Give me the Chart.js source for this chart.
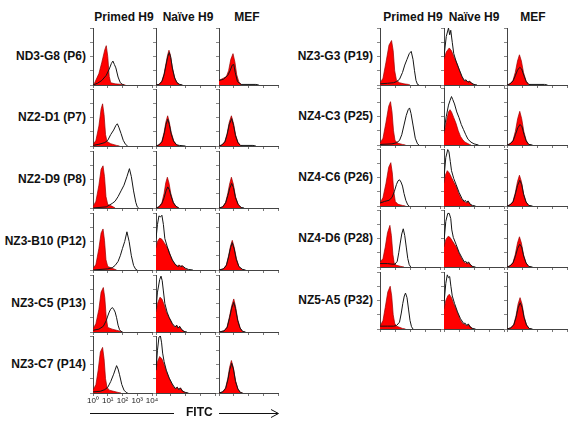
<!DOCTYPE html>
<html>
<head>
<meta charset="utf-8">
<script src="https://cdn.jsdelivr.net/npm/chart.js@4.4.1/dist/chart.umd.min.js"></script>
<style>
  html, body { margin: 0; padding: 0; background: #fff; }
  #stage { position: relative; width: 576px; height: 425px; overflow: hidden; font-family: "Liberation Sans", Arial, sans-serif; }
  canvas { position: absolute; }
  .hdr, .lbl, .fitc { position: absolute; font-weight: bold; font-size: 12px; color: #111; white-space: nowrap; line-height: 14px; }
  .hdr { transform: translateX(-50%); }
  .lbl { text-align: right; }
</style>
</head>
<body>
<div id="stage"></div>
<script>
// ---------- DATA (log10 fluorescence in decades, % of panel height) ----------
const columns = ['Primed H9', 'Naïve H9', 'MEF'];
const tickLabels = ['10⁰', '10¹', '10²', '10³', '10⁴'];
const clonesLeft = ['ND3-G8 (P6)', 'NZ2-D1 (P7)', 'NZ2-D9 (P8)', 'NZ3-B10 (P12)', 'NZ3-C5 (P13)', 'NZ3-C7 (P14)'];
const clonesRight = ['NZ3-G3 (P19)', 'NZ4-C3 (P25)', 'NZ4-C6 (P26)', 'NZ4-D6 (P28)', 'NZ5-A5 (P32)'];

// red filled histograms (control) and black outline histograms (stained), left block
const primedRedLeft = [
  [[0,0],[0.1,3],[0.4,20],[0.6,40],[0.8,62],[0.9,69],[1.0,50],[1.1,15],[1.2,4],[1.5,2],[2.0,1],[2.2,0]],
  [[0,2],[0.2,10],[0.4,35],[0.55,65],[0.65,74],[0.75,55],[0.85,20],[0.95,8],[1.2,4],[1.6,1],[1.8,0]],
  [[0,2],[0.2,12],[0.4,40],[0.55,68],[0.68,74],[0.78,55],[0.88,20],[1.0,6],[1.3,3],[1.5,0]],
  [[0,2],[0.2,10],[0.4,38],[0.55,65],[0.68,72],[0.78,52],[0.88,18],[1.0,6],[1.3,3],[1.6,0]],
  [[0,5],[0.2,15],[0.4,40],[0.55,70],[0.7,78],[0.8,60],[0.9,25],[1.0,8],[1.3,5],[1.6,3],[1.9,1],[2.0,0]],
  [[0,5],[0.2,15],[0.35,40],[0.5,72],[0.65,80],[0.75,60],[0.85,25],[0.95,10],[1.1,5],[1.4,3],[1.7,1],[1.9,0]]
];
const primedLineLeft = [
  [[0,0],[0.3,3],[0.6,8],[0.9,17],[1.1,28],[1.25,38],[1.35,42],[1.45,36],[1.55,30],[1.7,14],[1.85,4],[2.0,1],[2.1,0]],
  [[0,1],[0.4,3],[0.8,6],[1.0,10],[1.2,20],[1.4,28],[1.55,36],[1.65,39],[1.75,33],[1.9,22],[2.05,10],[2.2,3],[2.35,0]],
  [[0,0],[0.9,2],[1.1,5],[1.3,8],[1.5,12],[1.7,20],[1.9,30],[2.1,40],[2.3,55],[2.47,69],[2.6,55],[2.75,30],[2.9,10],[3.0,2],[3.1,0]],
  [[0,0],[1.0,2],[1.3,4],[1.5,8],[1.7,15],[1.85,25],[2.0,38],[2.15,50],[2.3,67],[2.45,50],[2.6,25],[2.75,8],[2.9,1],[3.0,0]],
  [[0,3],[0.4,5],[0.7,10],[0.9,20],[1.0,28],[1.1,35],[1.2,40],[1.31,43],[1.4,40],[1.5,35],[1.6,25],[1.7,12],[1.8,4],[1.9,1],[2.0,0]],
  [[0,2],[0.5,3],[0.8,6],[1.0,10],[1.2,20],[1.4,33],[1.52,42],[1.6,48],[1.7,42],[1.8,32],[1.95,15],[2.1,5],[2.25,1],[2.35,0]]
];
const naiveRedLeft = [
  [[0,0],[0.2,1],[0.4,7],[0.55,20],[0.68,38],[0.78,52],[0.88,61],[0.98,52],[1.1,32],[1.25,14],[1.4,5],[1.6,1],[1.75,0]],
  [[0,0],[0.2,2],[0.4,8],[0.55,24],[0.67,42],[0.79,53],[0.9,42],[1.03,24],[1.2,9],[1.4,2],[1.6,0]],
  [[0,0],[0.2,2],[0.4,9],[0.55,26],[0.66,44],[0.77,54],[0.88,44],[1.0,26],[1.17,10],[1.35,3],[1.55,0]],
  [[0,38],[0.1,50],[0.25,56],[0.4,54],[0.55,48],[0.7,42],[0.85,35],[1.0,24],[1.15,15],[1.3,10],[1.45,6],[1.55,9],[1.65,5],[1.75,8],[1.9,4],[2.05,1],[2.2,0]],
  [[0,35],[0.1,50],[0.27,61],[0.4,58],[0.55,48],[0.7,35],[0.85,27],[1.0,20],[1.15,12],[1.3,8],[1.4,12],[1.5,6],[1.6,10],[1.7,5],[1.85,2],[2.0,0]],
  [[0,40],[0.1,55],[0.25,64],[0.4,60],[0.55,50],[0.7,38],[0.85,28],[1.0,20],[1.15,12],[1.3,7],[1.45,10],[1.55,5],[1.65,9],[1.8,4],[1.95,1],[2.1,0]]
];
const naiveLineLeft = [
  [[0,0],[0.2,1],[0.4,6],[0.55,18],[0.68,35],[0.8,50],[0.9,57],[1.0,48],[1.12,28],[1.27,12],[1.42,4],[1.6,1],[1.8,0]],
  [[0,0],[0.2,2],[0.4,7],[0.55,21],[0.68,38],[0.8,47],[0.9,38],[1.03,21],[1.2,8],[1.4,2],[1.6,1],[2.0,0]],
  [[0,0],[0.2,2],[0.4,8],[0.55,18],[0.68,30],[0.8,37],[0.9,32],[1.02,21],[1.18,9],[1.35,3],[1.55,0]],
  [[0,55],[0.1,80],[0.2,95],[0.3,93],[0.4,96],[0.5,80],[0.6,55],[0.75,42],[0.9,30],[1.1,18],[1.3,10],[1.5,6],[1.6,8],[1.7,6],[1.8,7],[2.0,3],[2.2,1],[2.5,0]],
  [[0,40],[0.1,70],[0.25,92],[0.34,98],[0.42,90],[0.5,72],[0.6,50],[0.75,35],[0.9,25],[1.1,15],[1.3,9],[1.4,12],[1.5,7],[1.6,10],[1.75,4],[1.9,1],[2.1,0]],
  [[0,40],[0.1,75],[0.2,98],[0.3,100],[0.38,88],[0.45,70],[0.55,55],[0.7,40],[0.9,26],[1.1,16],[1.3,8],[1.45,10],[1.55,6],[1.65,9],[1.8,3],[2.0,1],[2.2,0]]
];
const mefRedLeft = [
  [[0,8],[0.3,12],[0.5,15],[0.65,25],[0.8,45],[0.95,55],[1.08,40],[1.2,18],[1.35,5],[1.55,0]],
  [[0,0],[0.2,2],[0.4,8],[0.55,22],[0.7,42],[0.84,53],[0.98,40],[1.12,20],[1.28,7],[1.45,1],[1.6,0]],
  [[0,0],[0.25,2],[0.45,10],[0.6,26],[0.72,42],[0.84,54],[0.97,42],[1.12,20],[1.3,6],[1.5,1],[1.6,0]],
  [[0,0],[0.3,2],[0.5,9],[0.65,25],[0.78,42],[0.9,52],[1.03,40],[1.18,20],[1.35,6],[1.55,1],[1.7,0]],
  [[0,0],[0.35,2],[0.55,9],[0.72,28],[0.86,46],[1.0,58],[1.12,45],[1.27,22],[1.43,7],[1.6,1],[1.75,0]],
  [[0,0],[0.25,2],[0.45,9],[0.6,26],[0.72,45],[0.84,57],[0.97,45],[1.12,22],[1.28,7],[1.45,1],[1.6,0]]
];
const mefLineLeft = [
  [[0,8],[0.3,10],[0.6,17],[0.75,25],[0.9,35],[1.0,36],[1.1,22],[1.25,6],[1.5,1],[2.5,1],[2.7,0]],
  [[0,0],[0.2,2],[0.4,7],[0.55,20],[0.7,38],[0.86,48],[0.99,36],[1.12,18],[1.28,6],[1.45,1],[2.3,1],[2.5,0]],
  [[0,0],[0.25,2],[0.45,9],[0.6,22],[0.73,35],[0.86,43],[0.98,36],[1.12,18],[1.3,6],[1.5,1],[1.7,0]],
  [[0,0],[0.3,2],[0.5,8],[0.65,23],[0.78,39],[0.9,48],[1.03,37],[1.18,18],[1.35,6],[1.6,1],[1.8,0]],
  [[0,0],[0.35,2],[0.55,8],[0.72,25],[0.86,42],[1.0,52],[1.12,41],[1.27,20],[1.43,7],[1.6,1],[1.8,0]],
  [[0,0],[0.25,2],[0.45,8],[0.6,23],[0.73,41],[0.86,52],[0.98,42],[1.12,20],[1.28,7],[1.45,1],[1.6,0]]
];

// right block
const primedRedRight = [
  [[0,3],[0.2,12],[0.4,40],[0.6,70],[0.77,78],[0.88,60],[0.98,25],[1.1,8],[1.3,4],[1.6,2],[1.9,1],[2.0,0]],
  [[0,3],[0.2,12],[0.4,40],[0.58,68],[0.7,76],[0.8,58],[0.9,25],[1.0,8],[1.2,3],[1.5,1],[1.7,0]],
  [[0,5],[0.2,15],[0.4,40],[0.58,68],[0.72,76],[0.82,58],[0.92,25],[1.02,8],[1.2,3],[1.5,1],[1.7,0]],
  [[0,8],[0.2,15],[0.35,35],[0.5,60],[0.66,73],[0.76,55],[0.86,22],[0.95,6],[1.1,3],[1.4,1],[1.6,0]],
  [[0,5],[0.2,15],[0.35,38],[0.52,65],[0.68,75],[0.78,58],[0.88,25],[0.98,10],[1.1,5],[1.3,3],[1.5,1],[1.7,0]]
];
const primedLineRight = [
  [[0,2],[0.5,3],[0.9,4],[1.1,6],[1.3,10],[1.5,22],[1.65,35],[1.8,45],[1.95,55],[2.08,59],[2.2,45],[2.3,25],[2.4,8],[2.5,1],[2.6,0]],
  [[0,1],[0.8,2],[1.1,4],[1.3,8],[1.45,18],[1.6,35],[1.75,52],[1.88,62],[1.97,65],[2.07,55],[2.2,35],[2.35,12],[2.5,2],[2.6,0]],
  [[0,5],[0.3,8],[0.6,10],[0.8,15],[0.95,25],[1.1,38],[1.2,44],[1.3,46],[1.4,42],[1.5,35],[1.6,22],[1.72,10],[1.85,2],[1.95,0]],
  [[0,6],[0.5,6],[0.8,5],[1.0,5],[1.15,10],[1.25,25],[1.35,42],[1.45,58],[1.55,67],[1.65,55],[1.75,35],[1.85,15],[1.95,4],[2.05,0]],
  [[0,5],[0.5,5],[0.9,5],[1.1,6],[1.3,12],[1.42,28],[1.52,45],[1.62,58],[1.7,63],[1.8,55],[1.9,35],[2.0,15],[2.1,4],[2.2,0]]
];
const naiveRedRight = [
  [[0,45],[0.15,58],[0.35,65],[0.5,60],[0.65,50],[0.83,40],[1.0,28],[1.15,17],[1.27,10],[1.38,6],[1.47,9],[1.58,5],[1.7,7],[1.85,3],[2.0,0]],
  [[0,20],[0.15,40],[0.3,58],[0.4,62],[0.5,58],[0.65,48],[0.8,38],[0.95,25],[1.1,15],[1.25,9],[1.4,5],[1.55,3],[1.7,1],[1.8,0]],
  [[0,40],[0.1,55],[0.22,62],[0.35,58],[0.5,50],[0.65,42],[0.8,35],[0.95,24],[1.1,15],[1.25,9],[1.38,8],[1.48,5],[1.6,8],[1.75,3],[1.9,0]],
  [[0,35],[0.12,48],[0.28,54],[0.4,52],[0.55,46],[0.7,40],[0.85,34],[1.0,24],[1.15,16],[1.3,9],[1.42,7],[1.5,8],[1.58,5],[1.66,8],[1.8,3],[1.95,0]],
  [[0,35],[0.12,50],[0.25,58],[0.35,61],[0.5,55],[0.65,44],[0.8,35],[0.95,25],[1.1,15],[1.25,9],[1.42,8],[1.52,5],[1.64,8],[1.8,3],[1.95,0]]
];
const naiveLineRight = [
  [[0,50],[0.15,85],[0.3,100],[0.38,88],[0.45,96],[0.55,75],[0.65,55],[0.8,42],[1.0,28],[1.2,15],[1.35,8],[1.45,9],[1.6,5],[1.7,6],[1.85,3],[2.0,1],[2.2,0]],
  [[0,25],[0.15,50],[0.3,70],[0.4,78],[0.5,85],[0.58,80],[0.7,72],[0.85,58],[1.0,48],[1.15,36],[1.3,27],[1.45,18],[1.6,10],[1.8,5],[2.0,2],[2.3,0]],
  [[0,50],[0.12,85],[0.25,99],[0.33,95],[0.42,78],[0.5,62],[0.65,48],[0.8,38],[1.0,24],[1.2,13],[1.35,8],[1.42,10],[1.52,6],[1.6,9],[1.75,3],[1.9,1],[2.1,0]],
  [[0,45],[0.12,80],[0.25,94],[0.35,94],[0.45,85],[0.52,65],[0.62,52],[0.8,40],[1.0,26],[1.2,16],[1.35,9],[1.45,10],[1.55,6],[1.62,9],[1.75,4],[1.9,1],[2.1,0]],
  [[0,45],[0.12,80],[0.22,95],[0.3,90],[0.38,92],[0.46,75],[0.55,58],[0.7,45],[0.9,30],[1.1,18],[1.3,10],[1.42,10],[1.52,6],[1.62,9],[1.75,3],[1.9,1],[2.1,0]]
];
const mefRedRight = [
  [[0,0],[0.2,2],[0.4,8],[0.55,22],[0.7,42],[0.83,53],[0.96,42],[1.1,22],[1.27,7],[1.45,1],[1.6,0]],
  [[0,0],[0.2,2],[0.4,8],[0.56,24],[0.71,46],[0.85,59],[0.98,46],[1.12,24],[1.28,8],[1.45,1],[1.6,0]],
  [[0,0],[0.2,2],[0.4,8],[0.55,23],[0.7,43],[0.83,54],[0.96,43],[1.1,22],[1.27,7],[1.45,1],[1.6,0]],
  [[0,0],[0.2,2],[0.4,8],[0.55,22],[0.7,42],[0.83,53],[0.96,42],[1.1,22],[1.27,7],[1.45,1],[1.6,0]],
  [[0,0],[0.25,2],[0.45,8],[0.6,23],[0.74,44],[0.87,55],[1.0,44],[1.14,22],[1.3,7],[1.48,1],[1.62,0]]
];
const mefLineRight = [
  [[0,0],[0.2,2],[0.4,7],[0.55,16],[0.7,26],[0.85,31],[0.98,28],[1.12,17],[1.28,6],[1.45,1],[2.5,1],[2.7,0]],
  [[0,0],[0.2,2],[0.4,7],[0.56,18],[0.72,30],[0.87,36],[1.0,32],[1.13,19],[1.28,7],[1.45,1],[1.7,0]],
  [[0,0],[0.2,2],[0.4,7],[0.55,20],[0.7,36],[0.85,45],[0.98,38],[1.11,20],[1.27,7],[1.45,1],[1.7,0]],
  [[0,0],[0.2,2],[0.4,7],[0.55,18],[0.7,32],[0.85,40],[0.98,35],[1.11,19],[1.27,7],[1.45,1],[1.7,0]],
  [[0,0],[0.25,2],[0.45,7],[0.6,20],[0.74,37],[0.88,46],[1.01,38],[1.14,20],[1.3,7],[1.48,1],[1.7,0]]
];

// ---------- LAYOUT ----------
Chart.defaults.font.family = '"Liberation Sans", Arial, sans-serif';
const stage = document.getElementById('stage');
const TL = 3;      // tick length
const PH = 57;     // panel height

const leftBlock = {
  axisX: [93, 156, 219], width: 59, baselines: [85, 146, 208, 270, 332, 393],
  labelRight: 86, headerX: [124, 188, 247],
  clones: clonesLeft,
  red: [primedRedLeft, naiveRedLeft, mefRedLeft],
  line: [primedLineLeft, naiveLineLeft, mefLineLeft]
};
const rightBlock = {
  axisX: [380, 444, 507], width: 60, baselines: [85, 145, 206, 267, 329],
  labelRight: 373, headerX: [413, 474, 533],
  clones: clonesRight,
  red: [primedRedRight, naiveRedRight, mefRedRight],
  line: [primedLineRight, naiveLineRight, mefLineRight]
};

function toXY(arr) { return arr.map(p => ({x: p[0], y: p[1]})); }

function makePanel(axisX, baseY, w, red, line, withTicks) {
  const padL = withTicks ? 10 : 0;
  const padR = withTicks ? 14 : 1;
  const extraB = withTicks ? 11 : 0;
  const padT = 1;
  const cv = document.createElement('canvas');
  const cw = padL + TL + w + padR;
  const ch = padT + PH + TL + extraB;
  cv.width = cw; cv.height = ch;
  cv.style.width = cw + 'px'; cv.style.height = ch + 'px';
  cv.style.left = (axisX - TL - padL) + 'px';
  cv.style.top = (baseY - PH - padT) + 'px';
  stage.appendChild(cv);
  new Chart(cv, {
    type: 'line',
    data: {
      datasets: [
        { data: toXY(line), order: 0, fill: false, borderColor: '#151515', borderWidth: 1,
          pointRadius: 0, tension: 0 },
        { data: toXY(red), order: 1, fill: 'origin', backgroundColor: '#ff0000',
          borderColor: '#9a0000', borderWidth: 0.7, pointRadius: 0, tension: 0 }
      ]
    },
    options: {
      responsive: false, animation: false, devicePixelRatio: 1,
      events: [],
      layout: { padding: { left: padL, right: padR, top: padT, bottom: 0 } },
      plugins: { legend: { display: false }, tooltip: { enabled: false } },
      scales: {
        x: {
          type: 'linear', min: 0, max: 4,
          afterFit: s => { s.height = TL + extraB; s.paddingLeft = 0; s.paddingRight = 0; },
          ticks: {
            display: withTicks, stepSize: 1, autoSkip: false, maxRotation: 0, padding: 0,
            font: { size: 8 }, color: '#222',
            callback: (v, i) => tickLabels[i]
          },
          grid: { drawOnChartArea: false, tickLength: TL, color: '#777', lineWidth: 1 },
          border: { color: '#444', width: 1 }
        },
        y: {
          type: 'linear', min: 0, max: 100,
          afterFit: s => { s.width = TL; s.paddingTop = 0; s.paddingBottom = 0; },
          ticks: { display: false, stepSize: 25 },
          grid: { drawOnChartArea: false, tickLength: TL, color: '#888', lineWidth: 1 },
          border: { color: '#444', width: 1 }
        }
      }
    }
  });
}

function addText(cls, text, left, top) {
  const d = document.createElement('div');
  d.className = cls; d.textContent = text;
  d.style.left = left + 'px'; d.style.top = top + 'px';
  stage.appendChild(d);
  return d;
}

function buildBlock(b, isLeft) {
  columns.forEach((c, ci) => addText('hdr', c, b.headerX[ci], 10));
  b.clones.forEach((name, ri) => {
    const base = b.baselines[ri];
    const mid = base - PH / 2;
    const d = addText('lbl', name, 0, mid - 8);
    d.style.left = 'auto';
    d.style.right = (576 - b.labelRight) + 'px';
    for (let ci = 0; ci < 3; ci++) {
      const withTicks = isLeft && ci === 0 && ri === b.clones.length - 1;
      makePanel(b.axisX[ci], base, b.width, b.red[ci][ri], b.line[ci][ri], withTicks);
    }
  });
}

buildBlock(leftBlock, true);
buildBlock(rightBlock, false);

// FITC axis caption with arrow
addText('fitc', 'FITC', 186, 405);
const svgNS = 'http://www.w3.org/2000/svg';
const svg = document.createElementNS(svgNS, 'svg');
svg.setAttribute('width', '576'); svg.setAttribute('height', '425');
svg.style.position = 'absolute'; svg.style.left = '0'; svg.style.top = '0';
svg.innerHTML =
  '<line x1="90" y1="413.5" x2="174" y2="413.5" stroke="#111" stroke-width="1"/>' +
  '<line x1="219" y1="413.5" x2="278" y2="413.5" stroke="#111" stroke-width="1"/>' +
  '<polyline points="271,409.5 278.5,413.5 271,417.5" fill="none" stroke="#111" stroke-width="1"/>';
stage.appendChild(svg);
</script>
</body>
</html>
